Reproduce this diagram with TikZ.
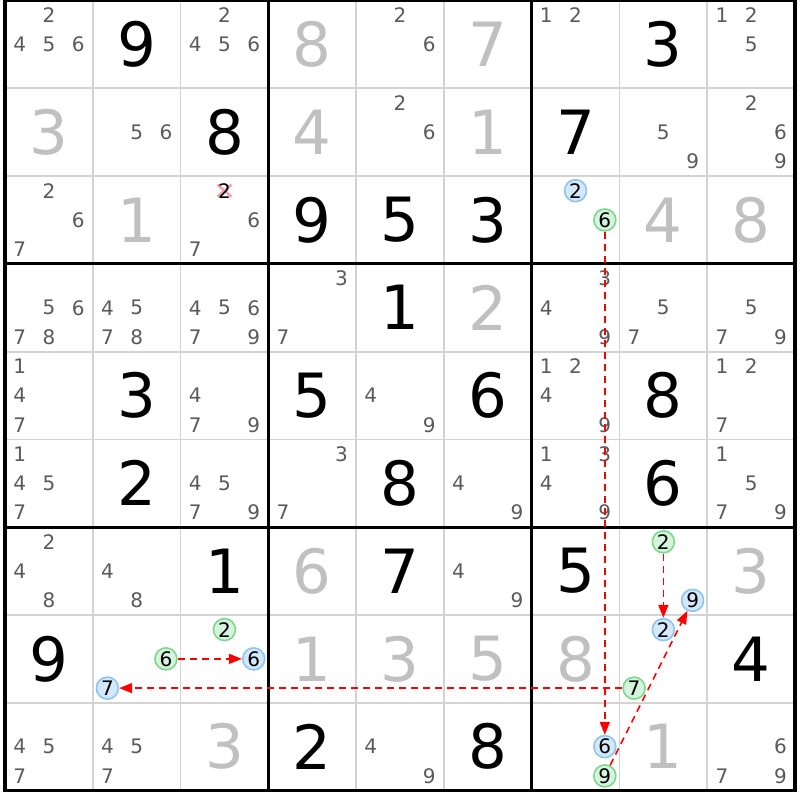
\documentclass[tikz,border=0pt]{standalone}
\usepackage{fontspec}
\setmainfont{DejaVu Sans}
\usetikzlibrary{arrows.meta}
\definecolor{cand}{HTML}{5A5A5A}
\definecolor{solved}{HTML}{C0C0C0}
\definecolor{thinline}{HTML}{D3D3D3}
\definecolor{bluefill}{HTML}{D4E8FC}
\definecolor{bluedraw}{HTML}{8CC4F4}
\definecolor{greenfill}{HTML}{D4F4DC}
\definecolor{greendraw}{HTML}{7CD88C}
\definecolor{xpink}{HTML}{F4A0B0}
\newcommand\setcp[3]{%
  \pgfmathsetmacro\px{5+(#2-1)*87.78+(2*mod(#3-1,3)+1)*14.63}%
  \pgfmathsetmacro\py{0.5+(#1-1)*87.78+(2*floor((#3-1)/3)+1)*14.63}}
\newcommand\setcc[2]{%
  \pgfmathsetmacro\px{5+(#2-0.5)*87.78}%
  \pgfmathsetmacro\py{0.5+(#1-0.5)*87.78}}
\begin{document}
\begin{tikzpicture}[x=1pt,y=-1pt,
  givend/.style={font=\fontsize{61}{61}\selectfont, text=black, inner sep=0pt},
  solvedd/.style={givend, text=solved},
  candd/.style={font=\fontsize{20}{20}\selectfont, text=cand, inner sep=0pt},
  bluec/.style={circle, draw=bluedraw, fill=bluefill, line width=1.6pt, minimum size=22pt, inner sep=0pt, text=black, font=\fontsize{20}{20}\selectfont},
  greenc/.style={bluec, draw=greendraw, fill=greenfill},
  link/.style={draw=red, dash pattern=on 7pt off 5pt, line width=1.6pt, -{Triangle[length=13pt,width=10pt]}}]
\fill[white] (0,0) rectangle (800,800);
\useasboundingbox (0,0) rectangle (800,800);
% thin grid lines
\foreach \i in {1,2,4,5,7,8} {
  \pgfmathsetmacro\gx{5+\i*87.78}
  \pgfmathsetmacro\gy{0.5+\i*87.78}
  \draw[thinline, line width=1.8pt] (\gx,0.5) -- (\gx,790.5);
  \draw[thinline, line width=1.8pt] (5,\gy) -- (795,\gy);
}
\foreach \i in {3,6} {
  \pgfmathsetmacro\gx{5+\i*87.78}
  \pgfmathsetmacro\gy{0.5+\i*87.78}
  \draw[black, line width=3pt] (\gx,0.5) -- (\gx,790.5);
  \draw[black, line width=3pt] (5,\gy) -- (795,\gy);
}
\draw[black, line width=3.5pt] (5,0.5) rectangle (795,790.5);
% given digits
\foreach \r/\c/\d in {1/2/9,1/8/3,2/3/8,2/7/7,3/4/9,3/5/5,3/6/3,4/5/1,5/2/3,5/4/5,5/6/6,5/8/8,6/2/2,6/5/8,6/8/6,7/3/1,7/5/7,7/7/5,8/1/9,8/9/4,9/4/2,9/6/8} {
  \setcc{\r}{\c}
  \node[givend] (g\r\c) at (\px,\py) {\d};
}
% solved digits
\foreach \r/\c/\d in {1/4/8,1/6/7,2/1/3,2/4/4,2/6/1,3/2/1,3/8/4,3/9/8,4/6/2,7/4/6,7/9/3,8/4/1,8/5/3,8/6/5,8/7/8,9/3/3,9/8/1} {
  \setcc{\r}{\c}
  \node[solvedd] (s\r\c) at (\px,\py) {\d};
}
% candidates
\foreach \r/\c/\ds in {1/1/{2,4,5,6},1/3/{2,4,5,6},1/5/{2,6},1/7/{1,2},1/9/{1,2,5},
  2/2/{5,6},2/5/{2,6},2/8/{5,9},2/9/{2,6,9},
  3/1/{2,6,7},3/3/{6,7},
  4/1/{5,6,7,8},4/2/{4,5,7,8},4/3/{4,5,6,7,9},4/4/{3,7},4/7/{3,4,9},4/8/{5,7},4/9/{5,7,9},
  5/1/{1,4,7},5/3/{4,7,9},5/5/{4,9},5/7/{1,2,4,9},5/9/{1,2,7},
  6/1/{1,4,5,7},6/3/{4,5,7,9},6/4/{3,7},6/6/{4,9},6/7/{1,3,4,9},6/9/{1,5,7,9},
  7/1/{2,4,8},7/2/{4,8},7/6/{4,9},
  9/1/{4,5,7},9/2/{4,5,7},9/5/{4,9},9/9/{6,7,9}} {
  \foreach \d in \ds {
    \setcp{\r}{\c}{\d}
    \node[candd] (k\r\c\d) at (\px,\py) {\d};
  }
}
% eliminated candidate r3c3 = 2
\setcp{3}{3}{2}
\draw[xpink, line width=2.5pt] (\px-7,\py-6) -- (\px+7,\py+6) (\px-7,\py+6) -- (\px+7,\py-6);
\node[candd, text=black] (x332) at (\px,\py) {2};
% highlighted candidates
\setcp{3}{7}{2}\node[bluec] (b372) at (\px,\py) {2};
\setcp{3}{7}{6}\node[greenc] (n376) at (\px,\py) {6};
\setcp{7}{8}{2}\node[greenc] (n782) at (\px,\py) {2};
\setcp{7}{8}{9}\node[bluec] (b789) at (\px,\py) {9};
\setcp{8}{2}{6}\node[greenc] (n826) at (\px,\py) {6};
\setcp{8}{2}{7}\node[bluec] (b827) at (\px,\py) {7};
\setcp{8}{3}{2}\node[greenc] (n832) at (\px,\py) {2};
\setcp{8}{3}{6}\node[bluec] (b836) at (\px,\py) {6};
\setcp{8}{8}{2}\node[bluec] (b882) at (\px,\py) {2};
\setcp{8}{8}{7}\node[greenc] (n887) at (\px,\py) {7};
\setcp{9}{7}{6}\node[bluec] (b976) at (\px,\py) {6};
\setcp{9}{7}{9}\node[greenc] (n979) at (\px,\py) {9};
% links
\draw[link] (n376) -- (b976);
\draw[link] (n782) -- (b882);
\draw[link] (n979) -- (b789);
\draw[link] (n887) -- (b827);
\draw[link] (n826) -- (b836);
\end{tikzpicture}
\end{document}
